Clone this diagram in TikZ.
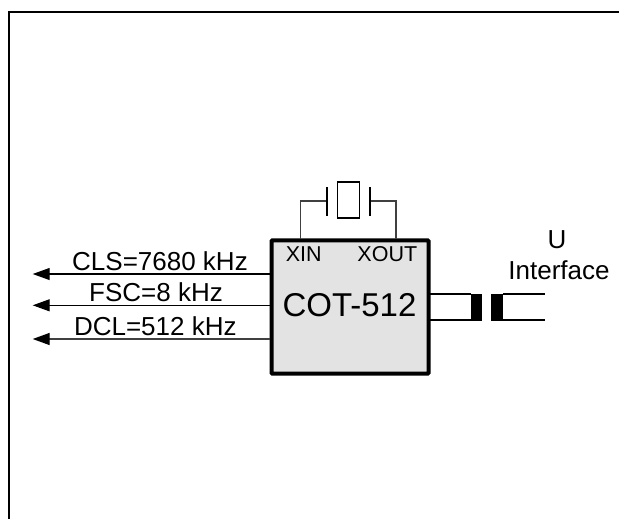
\documentclass[tikz,border=0pt]{standalone}
\usepackage{fontspec}
\setmainfont{Liberation Sans}
\usetikzlibrary{arrows.meta}
\begin{document}
\begin{tikzpicture}[x=1pt,y=-1pt,
  thinline/.style={draw=black!75,line width=1.2pt},
  sig/.style={draw=black,line width=1.2pt,-{Triangle[length=17pt,width=12pt,color=black,fill=black]}},
  lab/.style={inner sep=0pt,anchor=base,font=\fontsize{26pt}{28pt}\selectfont},
  pin/.style={inner sep=0pt,anchor=base,font=\fontsize{21.5pt}{24pt}\selectfont},
  plate/.style={line width=2pt,draw=black},
  core/.style={fill=black,draw=none},
  wire/.style={draw=black,line width=1.1pt}]
\useasboundingbox (0,0) rectangle (619,519);
\fill[white] (0,0) rectangle (619,519);
\draw[line width=2.2pt,black] (9,519) -- (9,12) -- (619,12);
\node[draw=black,line width=4pt,fill=black!11,minimum width=157.2pt,minimum height=133.4pt,inner sep=0pt,rounded corners=1pt] (chip) at (350.1,307) {};
\node[font=\fontsize{33pt}{36pt}\selectfont,inner sep=0pt,anchor=base] (name) at (349.5,316) {COT-512};
\node[pin] (xin) at (303.8,261) {XIN};
\node[pin] (xout) at (387.3,261) {XOUT};
\coordinate (a1) at (300.7,239); \coordinate (b1) at (396,239);
\coordinate (p1) at (327.3,201); \coordinate (p2) at (370,201);
\draw[thinline] (a1) |- (p1);
\draw[thinline] (b1) |- (p2);
\draw[plate] (327.3,187) -- (327.3,215.7);
\draw[plate] (370,187) -- (370,215.7);
\node[draw=black,line width=1.4pt,minimum width=22pt,minimum height=36pt,inner sep=0pt] (xtal) at (348.3,200) {};
\coordinate (c1) at (270,274); \coordinate (d1) at (32.7,274);
\coordinate (c2) at (270,305.3); \coordinate (d2) at (32.7,305.3);
\coordinate (c3) at (270,339); \coordinate (d3) at (32.7,339);
\draw[sig] (c1) -- (d1);
\draw[sig] (c2) -- (d2);
\draw[sig,draw=black!75,line width=1.4pt] (c3) -- (d3);
\node[lab] (l1) at (160,270) {CLS=7680 kHz};
\node[lab] (l2) at (156,301.7) {FSC=8 kHz};
\node[lab] (l3) at (155.3,335.7) {DCL=512 kHz};
\fill[core] (470.7,294) rectangle (482,321);
\fill[core] (491.3,294) rectangle (503.3,321);
\coordinate (r1) at (429,294); \coordinate (r2) at (429,320);
\coordinate (s1) at (545,294); \coordinate (s2) at (545,320);
\draw[wire] (r1) -- (470.7,294) (r2) -- (470.7,320);
\draw[wire] (503.3,294) -- (s1) (503.3,320) -- (s2);
\node[lab] (u) at (557,248.3) {U};
\node[lab] (ui) at (559,279) {Interface};
\end{tikzpicture}
\end{document}
